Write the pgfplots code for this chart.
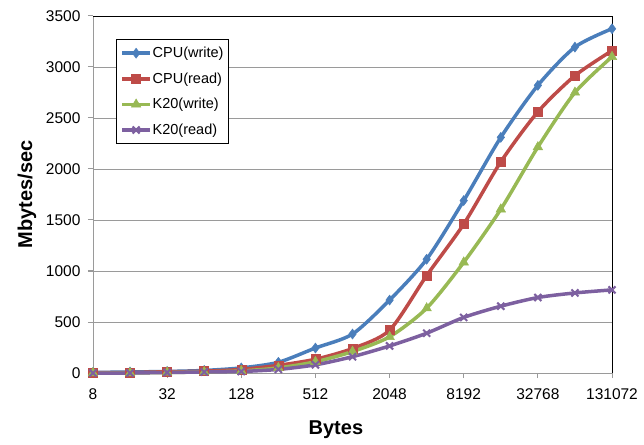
\documentclass[border=0pt]{standalone}
\usepackage{fontspec}
\setmainfont{Liberation Sans}
\usepackage{pgfplots}
\pgfplotsset{compat=1.18}
\definecolor{cblue}{HTML}{4A7EBB}
\definecolor{cred}{HTML}{BE4B48}
\definecolor{cgreen}{HTML}{98B954}
\definecolor{cpurple}{HTML}{7D60A0}
\definecolor{gridgray}{HTML}{9A9A9A}
\begin{document}
\begin{tikzpicture}
\path[use as bounding box] (0pt,0pt) rectangle (644pt,444pt);
\begin{axis}[
 at={(93pt,71pt)}, anchor=south west,
 scale only axis, width=519pt, height=357pt,
 xmin=0, xmax=14, ymin=0, ymax=3500,
 xtick={0,2,...,14}, xticklabels={8,32,128,512,2048,8192,32768,131072},
 ytick={0,500,...,3500},
 ymajorgrids, grid style={gridgray, line width=0.8pt},
 axis x line*=bottom, axis y line*=left,
 axis line style={gridgray, line width=1pt, -},
 tick style={gridgray, line width=1pt},
 tick align=outside, major tick length=5pt,
 ticklabel style={font=\fontsize{15.5}{18}\selectfont},
 xticklabel style={yshift=-7pt},
 yticklabel style={/pgf/number format/1000 sep={}, xshift=-4pt},
 /pgf/number format/assume math mode=true,
 xlabel={Bytes}, ylabel={Mbytes/sec},
 label style={font=\fontsize{20}{24}\selectfont\bfseries},
 xlabel style={at={([yshift=-57pt]rel axis cs:0.468,0)}, anchor=center},
 ylabel style={at={([xshift=-66pt]rel axis cs:0,0.5)}, anchor=center},
 clip=false,
 legend style={at={(rel axis cs:0.0443,0.9356)}, anchor=north west, draw=black, line width=0.8pt,
   font=\fontsize{14.5}{16}\selectfont, nodes={inner sep=0.8pt, anchor=west},
   row sep=12pt, inner xsep=4pt, inner ysep=7pt},
 legend cell align=left,
 legend image code/.code={\draw[mark repeat=2,mark phase=2] plot coordinates {(0pt,0pt)(14pt,0pt)(28pt,0pt)};},
 every axis plot/.append style={line width=3.5pt, smooth, tension=0.45},
]
\draw[black, line width=0.8pt] (rel axis cs:0,1) -- (rel axis cs:1,1) -- (rel axis cs:1,0);
\addplot[cblue, mark=diamond*, mark size=5pt, mark options={solid, line width=0.5pt, fill=cblue}] coordinates {
(0,5)(1,10)(2,15)(3,25)(4,50)(5,105)(6,245)(7,382)(8,715)(9,1115)(10,1690)(11,2310)(12,2820)(13,3195)(14,3375)};
\addlegendentry{CPU(write)}
\addplot[cred, mark=square*, mark size=4.5pt, mark options={solid, line width=0.5pt, fill=cred}] coordinates {
(0,5)(1,5)(2,12)(3,18)(4,35)(5,75)(6,135)(7,240)(8,420)(9,955)(10,1460)(11,2070)(12,2560)(13,2915)(14,3160)};
\addlegendentry{CPU(read)}
\addplot[cgreen, mark=triangle*, mark size=5.5pt, mark options={solid, line width=0.5pt, fill=cgreen}] coordinates {
(0,0)(1,0)(2,5)(3,10)(4,20)(5,50)(6,110)(7,210)(8,355)(9,635)(10,1085)(11,1605)(12,2215)(13,2750)(14,3100)};
\addlegendentry{K20(write)}
\addplot[cpurple, mark=x, mark size=5pt, mark options={solid, line width=2pt}] coordinates {
(0,0)(1,0)(2,5)(3,10)(4,15)(5,35)(6,80)(7,160)(8,265)(9,390)(10,545)(11,655)(12,740)(13,785)(14,815)};
\addlegendentry{K20(read)}
\end{axis}
\end{tikzpicture}
\end{document}
